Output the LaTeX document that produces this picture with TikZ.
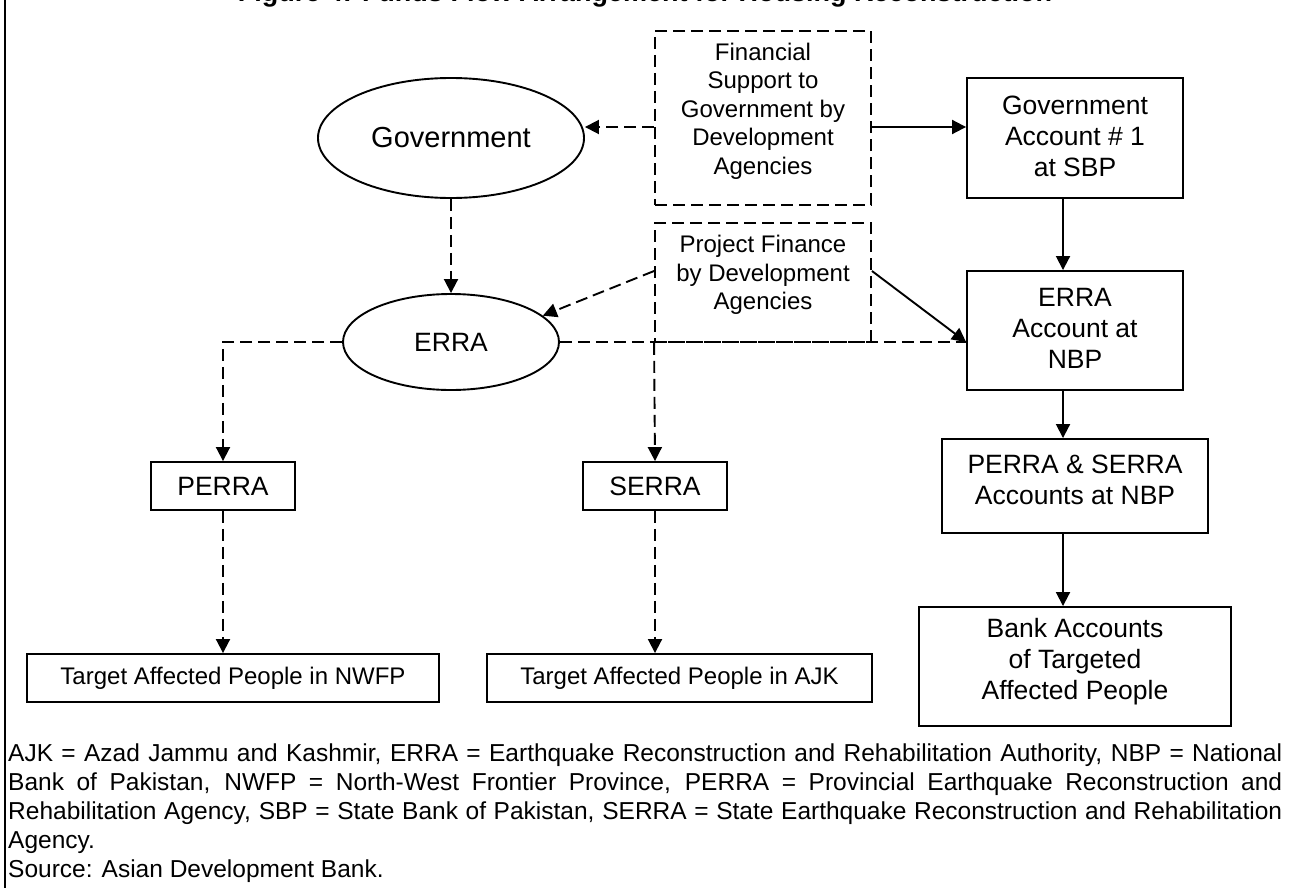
\documentclass[tikz,border=0pt]{standalone}
\usepackage{fontspec}
\setmainfont{Liberation Sans}
\usetikzlibrary{shapes.geometric,arrows.meta}
\newcommand\szTitle{\fontsize{27}{31}\selectfont\bfseries}
\newcommand\szEll{\fontsize{29}{33}\selectfont}
\newcommand\szBig{\fontsize{26.5}{31}\selectfont}
\newcommand\szMid{\fontsize{24}{28.5}\selectfont}
\newcommand\szFoot{\fontsize{24.5}{28.8}\selectfont}
\begin{document}
\begin{tikzpicture}[x=1pt,y=-1pt,
  lw/.style={line width=1.9pt},
  sbox/.style={draw, lw, inner sep=0pt, align=center},
  dbox/.style={draw, lw, dash pattern=on 12pt off 6pt, inner sep=0pt, align=center},
  oval/.style={ellipse, draw, lw, inner sep=0pt},
  txt/.style={inner sep=0pt, align=center},
  conn/.style={lw, -{Triangle[length=14pt,width=14pt]}},
  dconn/.style={conn, dash pattern=on 12pt off 6pt},
  dline/.style={lw, dash pattern=on 12pt off 6pt}]
\useasboundingbox (0,0) rectangle (1289,888);

% cut-off title (only its lowest edge lies inside the picture)
\node[anchor=base, inner sep=0pt, font=\szTitle] (title) at (645,1.3) {Figure 4: Funds Flow Arrangement for Housing Reconstruction};

% left frame line
\coordinate (ft) at (5,0);
\coordinate (fb) at (5,888);
\draw[line width=2pt] (ft) -- (fb);

% ellipses
\node[oval, minimum width=266pt, minimum height=120pt, font=\szEll] (gov) at (451,138) {Government};
\node[oval, minimum width=216pt, minimum height=96pt, font=\szBig] (erra) at (451,342) {ERRA};

% dashed boxes
\node[dbox, minimum width=216pt, minimum height=174pt] (fin) at (763,118) {};
\node[txt, font=\szMid] (fint) at (763,111) {Financial\\Support to\\Government by\\Development\\Agencies};
\node[dbox, minimum width=216pt, minimum height=119pt] (proj) at (763,282.5) {};
\node[txt, font=\szMid] (projt) at (763,275) {Project Finance\\by Development\\Agencies};

% right column
\node[sbox, minimum width=216pt, minimum height=120pt] (gacc) at (1075,138) {};
\node[txt, font=\szBig] (gacct) at (1075,136) {Government\\Account \# 1\\at SBP};
\node[sbox, minimum width=216pt, minimum height=119pt] (eacc) at (1075,330.5) {};
\node[txt, font=\szBig] (eacct) at (1075,328) {ERRA\\Account at\\NBP};
\node[sbox, minimum width=266pt, minimum height=94pt] (ps) at (1075,486) {};
\node[txt, font=\szBig] (pst) at (1075,480) {PERRA \& SERRA\\Accounts at NBP};
\node[sbox, minimum width=312pt, minimum height=119pt] (bank) at (1075,666.5) {};
\node[txt, font=\szBig] (bankt) at (1075,662) {Bank Accounts\\of Targeted\\Affected People};

% PERRA / SERRA
\node[sbox, minimum width=144pt, minimum height=48pt, font=\szBig] (perra) at (223,486) {PERRA};
\node[sbox, minimum width=144pt, minimum height=48pt, font=\szBig] (serra) at (655,486) {SERRA};

% target boxes
\node[sbox, minimum width=412pt, minimum height=48pt, font=\szMid] (nwfp) at (233,678) {Target Affected People in NWFP};
\node[sbox, minimum width=385pt, minimum height=48pt, font=\szMid] (ajk) at (679.5,678) {Target Affected People in AJK};

% connectors
\draw[dconn] ([yshift=-9pt]fin.west) -- ([yshift=-9pt]fin.west -| gov.east);
\draw[conn] ([yshift=-9pt]fin.east) -- ([yshift=-9pt]fin.east -| gacc.west);
\draw[conn] ([xshift=-12pt]gacc.south) -- ([xshift=-12pt]eacc.north);
\draw[conn] ([xshift=-12pt]eacc.south) -- ([xshift=-12pt]eacc.south |- ps.north);
\draw[conn] ([xshift=-12pt]ps.south) -- ([xshift=-12pt]ps.south |- bank.north);
\draw[dconn] (gov.south) -- (erra.north);
\draw[dconn] ([yshift=11.5pt]proj.west) -- (erra.16);
\draw[conn] ([yshift=11.5pt]proj.east) -- ([yshift=-11.5pt]eacc.west);
\draw[dline] (erra.east) -- ([yshift=-11.5pt]eacc.west);
\draw[dconn] (erra.west) -| (perra.north);
\draw[dconn] (proj.south west) -- (serra.north);
\draw[dconn] (perra.south) -- (perra.south |- nwfp.north);
\draw[dconn] (serra.south) -- (serra.south |- ajk.north);

% footnote
\node[anchor=north west, inner sep=0pt, text width=1274pt, align=justify, font=\szFoot] (foot) at (8,744) {AJK = Azad Jammu and Kashmir, ERRA = Earthquake Reconstruction and Rehabilitation Authority, NBP = National\linebreak Bank of Pakistan, NWFP = North-West Frontier Province, PERRA = Provincial Earthquake Reconstruction and\linebreak Rehabilitation Agency, SBP = State Bank of Pakistan, SERRA = State Earthquake Reconstruction and Rehabilitation\linebreak Agency.\\Source: Asian Development Bank.};
\end{tikzpicture}
\end{document}
